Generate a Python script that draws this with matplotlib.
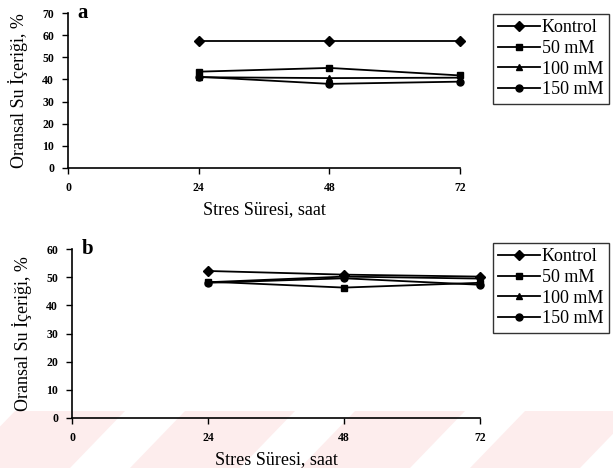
import matplotlib.pyplot as plt
from matplotlib.patches import Polygon

# stress duration (hours)
hours = [24, 48, 72]
labels = ['Kontrol', '50 mM', '100 mM', '150 mM']
markers = ['D', 's', '^', 'o']

# panel a - relative water content, %
a_kontrol = [57.5, 57.5, 57.5]
a_50 = [43.5, 45.2, 41.8]
a_100 = [41.0, 40.6, 40.8]
a_150 = [41.2, 38.0, 39.0]

# panel b - relative water content, %
b_kontrol = [52.2, 50.9, 50.2]
b_50 = [48.4, 46.3, 48.0]
b_100 = [48.2, 50.2, 49.5]
b_150 = [48.0, 49.6, 47.3]

serif = 'Liberation Serif'

fig = plt.figure(figsize=(6.13, 4.68), dpi=100)

# faint pink watermark stripes along the bottom edge
for x0 in [-40, 130, 300, 470]:
    pts = [(x0, 468), (x0 + 110, 468), (x0 + 165, 411), (x0 + 55, 411)]
    pts = [(px / 613, 1 - py / 468) for (px, py) in pts]
    fig.patches.append(Polygon(pts, closed=True, transform=fig.transFigure,
                               facecolor='#fdeded', edgecolor='none', zorder=-5))


def panel(ax, series, ymax, letter, leg_top):
    for vals, lab, m in zip(series, labels, markers):
        ms = 4 if m == 's' else 5
        ax.plot(hours, vals, color='black', lw=1.3, marker=m, markersize=ms,
                label=lab, clip_on=False)
    ax.set_xlim(0, 72)
    ax.set_ylim(0, ymax)
    ax.set_xticks([0, 24, 48, 72])
    ax.set_yticks(range(0, ymax + 1, 10))
    for s in ['top', 'right']:
        ax.spines[s].set_visible(False)
    for s in ['left', 'bottom']:
        ax.spines[s].set_linewidth(1.2)
    ax.tick_params(direction='out', length=4, width=1, labelsize=8.5, pad=6)
    for t in ax.get_xticklabels() + ax.get_yticklabels():
        t.set_fontfamily(serif)
        t.set_fontweight('bold')
    ax.set_facecolor('none')
    ax.text(0.025, 1.0, letter, transform=ax.transAxes, fontsize=15,
            fontweight='bold', family=serif, va='center', ha='left')
    ax.set_ylabel('Oransal Su İçeriği, %', family=serif, fontsize=13, labelpad=10)
    ax.set_xlabel('Stres Süresi, saat', family=serif, fontsize=13, labelpad=5)
    leg = ax.legend(loc='upper left', bbox_to_anchor=(493 / 613, leg_top),
                    bbox_transform=fig.transFigure, frameon=True, fancybox=False,
                    edgecolor='black', prop={'family': serif, 'size': 13},
                    handlelength=2.3, handletextpad=0.1, labelspacing=0.2,
                    borderpad=0.3, borderaxespad=0)
    leg.get_frame().set_linewidth(1.0)


ax1 = fig.add_axes([68 / 613, 1 - 168 / 468, 392 / 613, 155 / 468])
panel(ax1, [a_kontrol, a_50, a_100, a_150], 70, 'a', 1 - 14 / 468)

ax2 = fig.add_axes([72 / 613, 1 - 418 / 468, 408 / 613, 169 / 468])
panel(ax2, [b_kontrol, b_50, b_100, b_150], 60, 'b', 1 - 243 / 468)

plt.savefig('out.png', dpi=100)
